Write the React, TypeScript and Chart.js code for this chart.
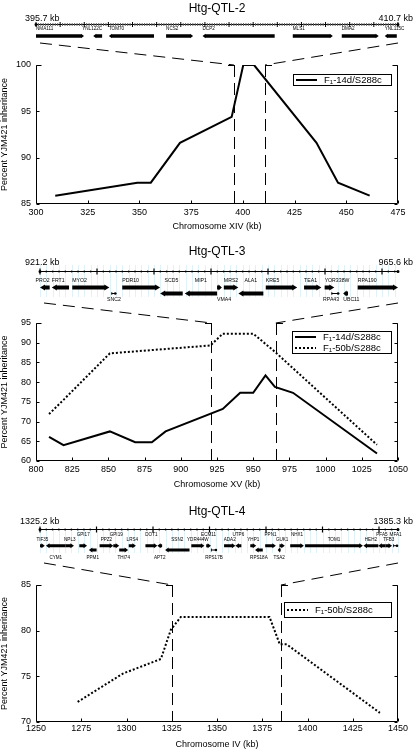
import React, { useEffect, useRef } from 'react';
import { Chart, registerables } from 'chart.js';

Chart.register(...registerables);

const FONT = '"Liberation Sans", Arial, Helvetica, sans-serif';

// ---------- Htg-QTL-2 : chromosome XIV ----------
const XIV_KB = [309.3, 349, 355.5, 369.6, 394.6, 400.2, 405.4, 435.6, 446, 461.3];
const XIV_14D = [85.9, 87.3, 87.3, 91.6, 94.4, 100, 100, 91.6, 87.3, 85.9];
const XIV_X_TICKS = [300, 325, 350, 375, 400, 425, 450, 475];
const XIV_Y_TICKS = [85, 90, 95, 100];
const XIV_MAP = [395.7, 410.7];
// name, start kb, end kb, strand (1 right, -1 left, 0 both), row, label slot (0 top,1 mid,2 below), align
const XIV_GENES: any[] = [
  ['NMA111', 395.7, 397.69, 1, 0, 0],
  ['YNL122C', 398.07, 398.44, -1, 0, 0, 'right'],
  ['TOM70', 398.72, 400.59, -1, 0, 0],
  ['NCS2', 401.09, 402.21, 1, 0, 0],
  ['DCP2', 402.6, 405.59, -1, 0, 0],
  ['MLS1', 406.34, 408.0, 1, 0, 0],
  ['DMA2', 408.37, 409.9, 1, 0, 0],
  ['YNL115C', 410.15, 410.65, -1, 0, 0],
];

// ---------- Htg-QTL-3 : chromosome XV ----------
const XV_KB_14D = [809, 819, 851, 868.5, 880, 889.5, 929, 941, 950, 958.5, 965, 977.5, 1035.5];
const XV_14D = [66.1, 64.0, 67.5, 64.75, 64.75, 67.5, 73.2, 77.3, 77.3, 81.7, 78.8, 77.3, 61.9];
const XV_KB_50B = [809, 819, 851, 920.5, 929, 950, 965, 1035.5];
const XV_50B = [71.9, 75.5, 87.3, 89.3, 92.3, 92.3, 87.7, 64.1];
const XV_X_TICKS = [800, 825, 850, 875, 900, 925, 950, 975, 1000, 1025, 1050];
const XV_Y_TICKS = [60, 65, 70, 75, 80, 85, 90, 95];
const XV_MAP = [921.2, 965.6];
const XV_GENES: any[] = [
  ['PRO2', 921.2, 922.4, -1, 0, 0, 'right'],
  ['FRT1', 922.66, 924.8, -1, 0, 0],
  ['MYO2', 925.2, 929.8, 1, 0, 0],
  ['SNC2', 930.06, 930.66, 0, 1, 2],
  ['PDR10', 931.4, 936.1, 1, 0, 0],
  ['SCD5', 936.1, 938.9, -1, 1, 0, 'center'],
  ['MIP1', 939.15, 943.16, -1, 1, 0, 'center'],
  ['VMA4', 943.16, 943.76, 1, 0, 2, 'left'],
  ['MRS2', 944.0, 945.8, 1, 0, 0],
  ['ALA1', 945.8, 948.9, -1, 1, 0, 'center'],
  ['KRE5', 949.2, 953.1, 1, 0, 0],
  ['TEA1', 953.95, 956.1, 1, 0, 0],
  ['YOR338W', 956.5, 957.7, 1, 0, 0],
  ['RPA43', 957.35, 958.3, 0, 1, 2, 'right'],
  ['UBC11', 958.8, 959.4, -1, 1, 2, 'left'],
  ['RPA190', 960.6, 965.6, 1, 0, 0],
];

// ---------- Htg-QTL-4 : chromosome IV ----------
const IV_KB_50B = [1273, 1298, 1319, 1324.5, 1330, 1379, 1384.7, 1388.5, 1440];
const IV_50B = [72.2, 75.3, 76.9, 80.1, 81.5, 81.5, 78.5, 78.5, 71.0];
const IV_X_TICKS = [1250, 1275, 1300, 1325, 1350, 1375, 1400, 1425, 1450];
const IV_Y_TICKS = [70, 75, 80, 85];
const IV_MAP = [1325.2, 1385.3];
const IV_GENES: any[] = [
  ['TIF35', 1325.2, 1326.0, 1, 0, 1],
  ['CYM1', 1326.2, 1329.5, -1, 0, 2],
  ['NPL3', 1329.5, 1330.9, 1, 0, 1],
  ['GPI17', 1331.8, 1333.1, 1, 0, 0],
  ['PPM1', 1333.4, 1334.7, -1, 1, 2],
  ['PPZ2', 1335.2, 1337.5, 1, 0, 1],
  ['GPI19', 1337.5, 1338.5, 1, 0, 0],
  ['THI74', 1338.5, 1340.0, 1, 1, 2],
  ['LRS4', 1340.1, 1341.3, 1, 0, 1],
  ['DOT1', 1342.9, 1344.9, 1, 0, 0],
  ['APT2', 1344.9, 1345.7, -1, 0, 2],
  ['SSN2', 1346.2, 1350.3, -1, 1, 1],
  ['YDR444W', 1350.6, 1352.8, 1, 0, 1],
  ['ECM11', 1353.1, 1353.9, 1, 0, 0],
  ['RPS17B', 1353.9, 1354.9, 0, 1, 2],
  ['ADA2', 1356.1, 1358.0, 1, 0, 1],
  ['UTP6', 1358.0, 1359.0, -1, 0, 0],
  ['YHP1', 1360.5, 1361.5, 1, 0, 1],
  ['RPS18A', 1361.3, 1362.6, -1, 1, 2],
  ['PPN1', 1363.0, 1364.8, 1, 0, 0],
  ['TSA2', 1365.1, 1365.6, -1, 1, 2],
  ['GUK1', 1365.4, 1366.3, 1, 0, 1],
  ['NHX1', 1367.2, 1369.5, 1, 0, 0],
  ['TOM1', 1369.7, 1379.4, 1, 0, 1],
  ['HEH2', 1379.5, 1382.0, -1, 0, 1],
  ['PFA5', 1382.0, 1383.2, -1, 0, 0],
  ['TFB3', 1383.2, 1384.3, 1, 0, 1],
  ['MFA1', 1384.5, 1385.3, 0, 0, 0],
];

const LEGEND_14D = ['F', '1', '-14d/S288c'];
const LEGEND_50B = ['F', '1', '-50b/S288c'];

const PANELS: any[] = [
  {
    top: 0, height: 235, plotTop: 65, plotBottom: 204, xTickPad: 3, xTitlePad: 3.5,
    title: 'Htg-QTL-2', xTitle: 'Chromosome XIV (kb)',
    xMin: 300, xMax: 475, xTicks: XIV_X_TICKS, yMin: 85, yMax: 100, yTicks: XIV_Y_TICKS,
    map: XIV_MAP, genes: XIV_GENES,
    series: [{ xs: XIV_KB, ys: XIV_14D, dotted: false, label: LEGEND_14D }],
    L: {
      gPad: 0, titleY: 9, kbY: 18.5, kbLeftX: 25, rulerY: 24, labelY: [29, 29], geneY: [36, 36], belowY: 42,
      zoomY: 43, geneFont: 4.6, barH: 3.3, headH: 4.6, headL: 3, labelAlign: 'left',
      majorPx: 24.13, minorDiv: 10, rulerStyle: 'hatch', stripes: null,
      legend: { x: 293, y: 74, w: 98, h: 11 },
    },
  },
  {
    top: 235, height: 255, plotTop: 88, plotBottom: 226, xTickPad: 3, xTitlePad: 0.5,
    title: 'Htg-QTL-3', xTitle: 'Chromosome XV (kb)',
    xMin: 800, xMax: 1050, xTicks: XV_X_TICKS, yMin: 60, yMax: 95, yTicks: XV_Y_TICKS,
    map: XV_MAP, genes: XV_GENES,
    series: [
      { xs: XV_KB_14D, ys: XV_14D, dotted: false, label: LEGEND_14D },
      { xs: XV_KB_50B, ys: XV_50B, dotted: true, label: LEGEND_50B },
    ],
    L: {
      gPad: 4, titleY: 17, kbY: 28, kbLeftX: 25, rulerY: 36, labelY: [46, 46], geneY: [52.5, 58.5], belowY: 64.5,
      zoomY: 68, geneFont: 5.2, barH: 4, headH: 6, headL: 5, labelAlign: 'left',
      majorPx: 57, minorDiv: 9, rulerStyle: 'dots', stripes: [30, 62],
      legend: { x: 292, y: 96, w: 99, h: 22 },
    },
  },
  {
    top: 490, height: 259, plotTop: 95, plotBottom: 232, xTickPad: 1, xTitlePad: 0,
    title: 'Htg-QTL-4', xTitle: 'Chromosome IV (kb)',
    xMin: 1250, xMax: 1450, xTicks: IV_X_TICKS, yMin: 70, yMax: 85, yTicks: IV_Y_TICKS,
    map: IV_MAP, genes: IV_GENES,
    series: [{ xs: IV_KB_50B, ys: IV_50B, dotted: true, label: LEGEND_50B }],
    L: {
      gPad: 4, titleY: 21.5, kbY: 31.5, kbLeftX: 20, rulerY: 39, labelY: [45, 50], geneY: [55.7, 60], belowY: 68,
      zoomY: 73, geneFont: 4.6, barH: 3, headH: 5, headL: 3.5, labelAlign: 'center',
      majorPx: 56.5, minorDiv: 9, rulerStyle: 'dots', stripes: [40, 63],
      legend: { x: 284, y: 112, w: 107, h: 15 },
    },
  },
];

function drawGene(ctx: CanvasRenderingContext2D, x1: number, x2: number, yc: number, dir: number, bh: number, hh: number, hl: number) {
  const len = x2 - x1;
  ctx.beginPath();
  if (dir === 0) {
    ctx.fillRect(x1, yc - 0.5, len, 1);
    ctx.fillRect(x1, yc - 1.5, 0.8, 3);
    ctx.arc(x2 - 1, yc, 1.3, 0, Math.PI * 2);
    ctx.fill();
    return;
  }
  const h = Math.min(hl, len * 0.7);
  if (dir > 0) {
    const hx = x2 - h;
    ctx.moveTo(x1, yc - bh / 2);
    ctx.lineTo(hx, yc - bh / 2);
    ctx.lineTo(hx, yc - hh / 2);
    ctx.lineTo(x2, yc);
    ctx.lineTo(hx, yc + hh / 2);
    ctx.lineTo(hx, yc + bh / 2);
    ctx.lineTo(x1, yc + bh / 2);
  } else {
    const hx = x1 + h;
    ctx.moveTo(x2, yc - bh / 2);
    ctx.lineTo(hx, yc - bh / 2);
    ctx.lineTo(hx, yc - hh / 2);
    ctx.lineTo(x1, yc);
    ctx.lineTo(hx, yc + hh / 2);
    ctx.lineTo(hx, yc + bh / 2);
    ctx.lineTo(x2, yc + bh / 2);
  }
  ctx.closePath();
  ctx.fill();
}

function line(ctx: CanvasRenderingContext2D, x1: number, y1: number, x2: number, y2: number) {
  ctx.beginPath();
  ctx.moveTo(x1, y1);
  ctx.lineTo(x2, y2);
  ctx.stroke();
}

function makeOverlay(p: any) {
  return {
    id: 'qtlOverlay',
    afterDraw(chart: any) {
      const ctx: CanvasRenderingContext2D = chart.ctx;
      const ca = chart.chartArea;
      const sx = chart.scales.x;
      const sy = chart.scales.y;
      const sg = chart.scales.g;
      const L = p.L;
      ctx.save();
      ctx.fillStyle = '#000';
      ctx.strokeStyle = '#000';
      ctx.textBaseline = 'middle';

      // title
      ctx.font = `12px ${FONT}`;
      ctx.textAlign = 'center';
      ctx.fillText(p.title, (ca.left + ca.right) / 2, L.titleY);

      // kb end labels
      ctx.font = `9px ${FONT}`;
      ctx.textAlign = 'left';
      ctx.fillText(`${p.map[0]} kb`, L.kbLeftX, L.kbY);
      ctx.textAlign = 'right';
      ctx.fillText(`${p.map[1]} kb`, 413, L.kbY);

      const gx0 = sg.getPixelForValue(p.map[0]);
      const gx1 = sg.getPixelForValue(p.map[1]);
      const minorPx = L.majorPx / L.minorDiv;

      // faint background stripes
      if (L.stripes) {
        ctx.strokeStyle = 'rgb(222,242,247)';
        ctx.lineWidth = 1;
        for (let x = gx0; x <= gx1 + 0.1; x += minorPx) {
          const xx = Math.round(x) + 0.5;
          line(ctx, xx, L.stripes[0], xx, L.stripes[1]);
        }
      }

      // ruler
      ctx.strokeStyle = '#000';
      ctx.fillStyle = '#000';
      ctx.lineWidth = 1;
      const ry = L.rulerY;
      line(ctx, gx0, ry + 0.5, gx1, ry + 0.5);
      let i = 0;
      for (let x = gx0; x <= gx1 + 0.1; x += minorPx, i++) {
        const major = i % L.minorDiv === 0;
        if (L.rulerStyle === 'hatch') {
          ctx.strokeStyle = major ? '#000' : '#666';
          const hgt = major ? 2.5 : 1.5;
          line(ctx, x, ry + 0.5 - hgt, x, ry + 0.5 + hgt);
        } else {
          if (major) {
            ctx.strokeStyle = '#000';
            ctx.lineWidth = 1.2;
            line(ctx, x, ry - 2.5, x, ry + 3.5);
            ctx.lineWidth = 1;
          } else {
            ctx.beginPath();
            ctx.arc(x, ry + 0.5, 0.9, 0, Math.PI * 2);
            ctx.fill();
          }
        }
      }
      ctx.beginPath();
      ctx.arc(gx0, ry + 0.5, 1.5, 0, Math.PI * 2);
      ctx.arc(gx1, ry + 0.5, 1.5, 0, Math.PI * 2);
      ctx.fill();

      // genes
      ctx.fillStyle = '#000';
      for (const g of p.genes) {
        const [name, s, e, dir, row, slot, al] = g;
        const x1 = sg.getPixelForValue(s);
        const x2 = sg.getPixelForValue(e);
        drawGene(ctx, x1, x2, L.geneY[row], dir, L.barH, L.headH, L.headL);
        ctx.font = `${L.geneFont}px ${FONT}`;
        const ly = slot === 2 ? L.belowY : L.labelY[slot];
        const align = al || (slot === 2 ? 'center' : L.labelAlign);
        ctx.textAlign = align as CanvasTextAlign;
        const lx = align === 'left' ? x1 : align === 'right' ? x2 : (x1 + x2) / 2;
        ctx.fillText(name, lx, ly);
      }

      // zoom lines
      const bx0 = sx.getPixelForValue(p.map[0]);
      const bx1 = sx.getPixelForValue(p.map[1]);
      ctx.strokeStyle = '#000';
      ctx.lineWidth = 1;
      ctx.setLineDash([12, 7]);
      line(ctx, gx0 + 4, L.zoomY, bx0, ca.top);
      line(ctx, gx1, L.zoomY, bx1, ca.top);

      // boundary verticals
      ctx.setLineDash([12, 6]);
      line(ctx, Math.round(bx0) + 0.5, ca.top, Math.round(bx0) + 0.5, ca.bottom);
      line(ctx, Math.round(bx1) + 0.5, ca.top, Math.round(bx1) + 0.5, ca.bottom);
      ctx.setLineDash([]);

      // frame
      const l = Math.round(ca.left) + 0.5;
      const r = Math.round(ca.right) - 0.5;
      const b = Math.round(ca.bottom) - 0.5;
      const t = Math.round(ca.top) + 0.5;
      line(ctx, l, t, l, b);
      line(ctx, l, b, r, b);
      line(ctx, r, t, r, b);
      line(ctx, l, t, l + 5, t);
      line(ctx, r - 5, t, r, t);
      line(ctx, Math.round(bx0) - 6, t, Math.round(bx0) + 0.5, t);
      line(ctx, Math.round(bx1) + 0.5, t, Math.round(bx1) + 7, t);
      for (const tk of sy.ticks) {
        const yy = Math.round(sy.getPixelForValue(tk.value)) + 0.5;
        line(ctx, l, yy, l + 3, yy);
        line(ctx, r - 3, yy, r, yy);
      }
      for (const tk of sx.ticks) {
        const xx = Math.round(sx.getPixelForValue(tk.value)) + 0.5;
        line(ctx, xx, b, xx, b - 3);
      }

      // legend
      const lg = L.legend;
      ctx.fillStyle = '#fff';
      ctx.fillRect(lg.x, lg.y, lg.w, lg.h);
      ctx.strokeStyle = '#000';
      ctx.strokeRect(lg.x + 0.5, lg.y + 0.5, lg.w, lg.h);
      const n = p.series.length;
      p.series.forEach((s: any, k: number) => {
        const yc = lg.y + 0.5 + (lg.h * (k + 0.5)) / n;
        ctx.lineWidth = 2;
        ctx.setLineDash(s.dotted ? [2, 2] : []);
        line(ctx, lg.x + 3, yc, lg.x + 24, yc);
        ctx.setLineDash([]);
        ctx.fillStyle = '#000';
        ctx.textAlign = 'left';
        let tx = lg.x + 31;
        ctx.font = `9.5px ${FONT}`;
        ctx.fillText(s.label[0], tx, yc);
        tx += ctx.measureText(s.label[0]).width;
        ctx.font = `6px ${FONT}`;
        ctx.fillText(s.label[1], tx, yc + 2.5);
        tx += ctx.measureText(s.label[1]).width;
        ctx.font = `9.5px ${FONT}`;
        ctx.fillText(s.label[2], tx, yc);
      });
      ctx.restore();
    },
  };
}

function Panel({ p }: { p: any }) {
  const ref = useRef<HTMLCanvasElement>(null);
  useEffect(() => {
    if (!ref.current) return;
    const tickFont = { family: FONT, size: 9 };
    const titleFont = { family: FONT, size: 9, lineHeight: 1 };
    // hidden gene-map scale; gPad shifts the map start a few pixels left of the plot edge
    const span = p.map[1] - p.map[0];
    const gMin = p.map[0] - (span * p.L.gPad) / (362 - p.L.gPad);
    const chart = new Chart(ref.current, {
      type: 'line',
      data: {
        datasets: p.series.map((s: any) => ({
          data: s.xs.map((x: number, i: number) => ({ x, y: s.ys[i] })),
          borderColor: '#000',
          borderWidth: 2,
          borderDash: s.dotted ? [2, 2] : [],
          pointRadius: 0,
          tension: 0,
          fill: false,
          xAxisID: 'x',
          yAxisID: 'y',
        })),
      },
      options: {
        animation: false,
        responsive: false,
        devicePixelRatio: 1,
        layout: { padding: { top: p.plotTop, right: 17, left: 0, bottom: 0 } },
        plugins: { legend: { display: false }, tooltip: { enabled: false }, title: { display: false } },
        scales: {
          x: {
            type: 'linear',
            position: 'bottom',
            min: p.xMin,
            max: p.xMax,
            afterBuildTicks: (s: any) => { s.ticks = p.xTicks.map((v: number) => ({ value: v })); },
            afterFit: (s: any) => { s.height = p.height - p.plotBottom; },
            ticks: { autoSkip: false, maxRotation: 0, padding: p.xTickPad, font: tickFont, color: '#000', callback: (v: any) => String(v) },
            grid: { display: false, drawTicks: false },
            border: { display: false },
            title: { display: true, text: p.xTitle, font: titleFont, color: '#000', padding: { top: 0, bottom: p.xTitlePad } },
          },
          y: {
            type: 'linear',
            position: 'left',
            min: p.yMin,
            max: p.yMax,
            afterBuildTicks: (s: any) => { s.ticks = p.yTicks.map((v: number) => ({ value: v })); },
            afterFit: (s: any) => { s.width = 36; },
            ticks: { padding: 5, font: tickFont, color: '#000', callback: (v: any) => String(v) },
            grid: { display: false, drawTicks: false },
            border: { display: false },
            title: { display: true, text: 'Percent YJM421 inheritance', font: titleFont, color: '#000', padding: { top: 0.5, bottom: 0 } },
          },
          g: {
            type: 'linear',
            axis: 'x',
            display: false,
            min: gMin,
            max: p.map[1],
          },
        },
      } as any,
      plugins: [makeOverlay(p)],
    });
    return () => chart.destroy();
  }, [p]);
  return (
    <canvas
      ref={ref}
      width={415}
      height={p.height}
      style={{ position: 'absolute', left: 0, top: p.top, width: 415, height: p.height, display: 'block' }}
    />
  );
}

export default function App() {
  return (
    <div style={{ position: 'absolute', left: 0, top: 0, width: 415, height: 749, background: '#fff' }}>
      {PANELS.map((p, i) => (
        <Panel key={i} p={p} />
      ))}
    </div>
  );
}
